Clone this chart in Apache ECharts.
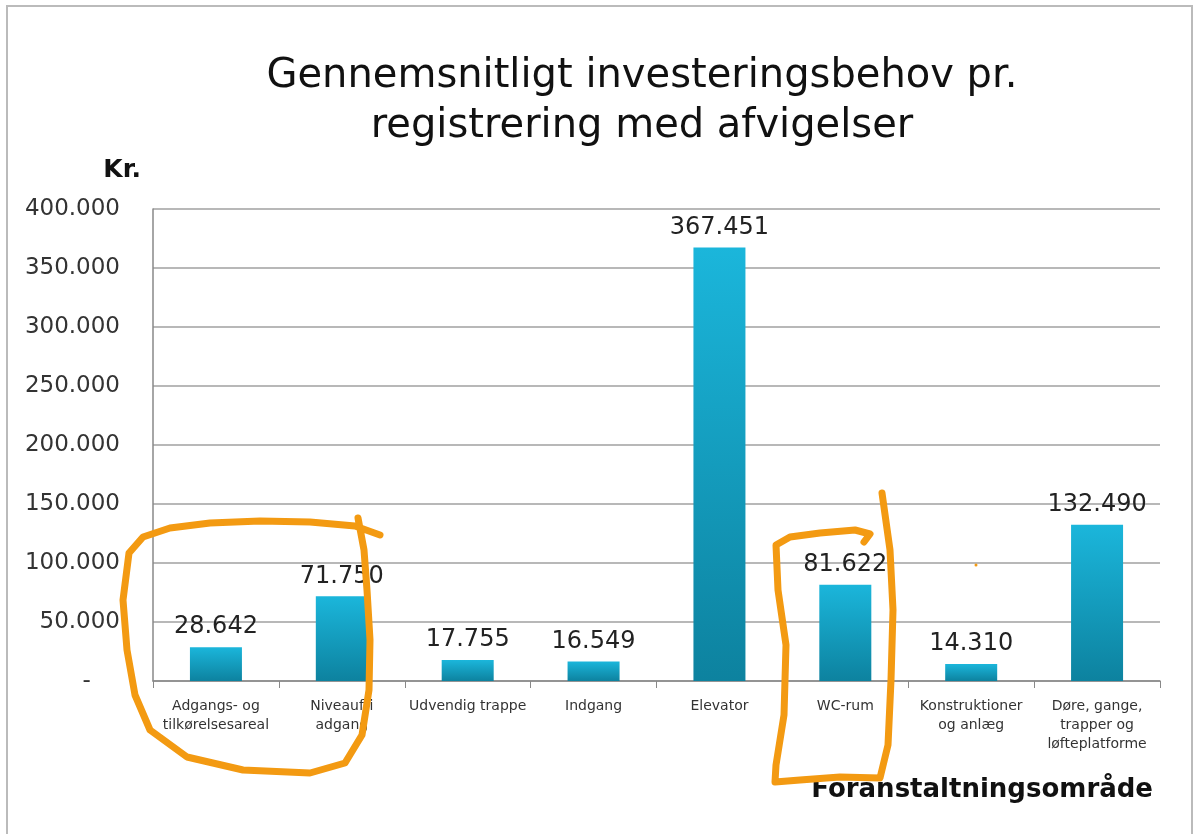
<!DOCTYPE html>
<title>investeringsbehov</title>
<style>
body {margin: 0; background: #fff;}
#echart {height: 834px; width: 1198px;}
</style>
<div id='echart'></div>
<script src='https://cdn.jsdelivr.net/npm/echarts@6.0.0/dist/echarts.min.js'></script>
<script>
let categories = ['Adgangs- og\ntilkørelsesareal', 'Niveaufri\nadgang', 'Udvendig trappe', 'Indgang', 'Elevator', 'WC-rum', 'Konstruktioner\nog anlæg', 'Døre, gange,\ntrapper og\nløfteplatforme']
let values = [28642, 71750, 17755, 16549, 367451, 81622, 14310, 132490]

let font = 'DejaVu Sans'
let orange = '#f39a12'

function dots(v) {
	if (v === 0) return '-    '
	return String(v).replace(/\B(?=(\d{3})+(?!\d))/g, '.')
}

let echart = echarts.init(document.querySelector('#echart'))
let option = {
	animation: false,
	textStyle: {fontFamily: font},
	title: {
		text: 'Gennemsnitligt investeringsbehov pr.\nregistrering med afvigelser',
		left: 637, top: 47, textAlign: 'center',
		textStyle: {fontSize: 40, fontWeight: 'normal', color: '#111', lineHeight: 50, fontFamily: font},
	},
	grid: {left: 153, right: 38, top: 209, bottom: 153},
	xAxis: {
		type: 'category', data: categories,
		axisLine: {lineStyle: {color: '#888', width: 1.5}},
		axisTick: {show: true, length: 7, lineStyle: {color: '#888'}},
		axisLabel: {interval: 0, color: '#333', fontSize: 14, lineHeight: 19, margin: 16},
	},
	yAxis: {
		type: 'value', min: 0, max: 400000, interval: 50000,
		name: 'Kr.', nameGap: 26,
		nameTextStyle: {fontSize: 25, fontWeight: 'bold', color: '#111', align: 'right', padding: [0, 12, 0, 0]},
		axisLine: {show: true, lineStyle: {color: '#888', width: 1.5}},
		axisTick: {show: false},
		splitLine: {lineStyle: {color: '#a0a0a0', width: 1.5}},
		axisLabel: {fontSize: 23, color: '#333', margin: 33, formatter: dots},
	},
	series: [{
		type: 'bar', data: values, barWidth: 52,
		itemStyle: {
			color: new echarts.graphic.LinearGradient(0, 0, 0, 1, [
				{offset: 0, color: '#1bb6db'},
				{offset: 1, color: '#0d829f'},
			]),
		},
		label: {show: true, position: 'top', distance: 8, fontSize: 24, color: '#222', formatter: p => dots(p.value)},
	}],
	graphic: [
		{type: 'rect', shape: {x: 7, y: 6, width: 1185, height: 840}, style: {fill: null, stroke: '#bbb', lineWidth: 2}, z: 0},
		{type: 'text', style: {text: 'Foranstaltningsområde', x: 1153, y: 790, align: 'right', verticalAlign: 'middle', font: 'bold 26px "DejaVu Sans"', fill: '#111'}, z: 1},
		{type: 'polyline', smooth: 0.8, z: 10, shape: {points: [[380, 535], [355, 526], [310, 522], [260, 521], [210, 523], [170, 528], [143, 537], [129, 553], [123, 600], [127, 650], [135, 695], [150, 730], [187, 757], [243, 770], [310, 773], [345, 763], [362, 735], [369, 690], [370, 640], [367, 590], [364, 550], [358, 518]]}, style: {stroke: orange, lineWidth: 7, fill: null, lineCap: 'round', lineJoin: 'round'}},
		{type: 'polyline', smooth: 0.8, z: 10, shape: {points: [[864, 542], [870, 534], [855, 530], [820, 533], [790, 537], [776, 545], [778, 590], [786, 645], [784, 715], [776, 765], [775, 782], [800, 780], [840, 777], [880, 778], [888, 745], [891, 680], [893, 610], [890, 550], [882, 493]]}, style: {stroke: orange, lineWidth: 7, fill: null, lineCap: 'round', lineJoin: 'round'}},
		{type: 'circle', shape: {cx: 976, cy: 565, r: 1.5}, style: {fill: orange}, z: 10},
	],
}

echart.setOption(option)
addEventListener('resize', function (event) {echart.resize()})
</script>
